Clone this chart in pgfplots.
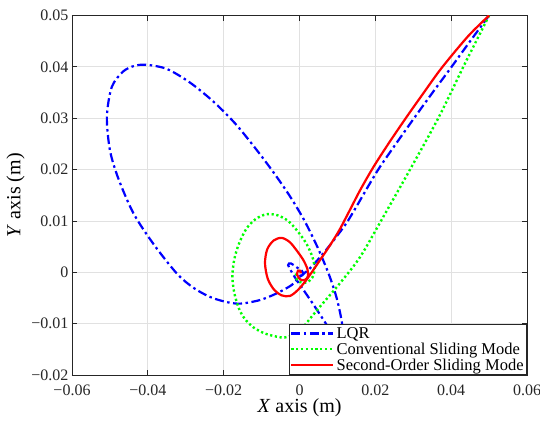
\documentclass[border=0pt]{standalone}
\usepackage{fontspec}
\setmainfont{Liberation Serif}
\usepackage{pgfplots}
\pgfplotsset{compat=1.18}
\usetikzlibrary{calc}

\definecolor{axgray}{RGB}{38,38,38}
\definecolor{gridgray}{RGB}{225,225,225}
\definecolor{lqrblue}{RGB}{0,0,255}
\definecolor{smcgreen}{RGB}{0,255,0}
\definecolor{sosmred}{RGB}{255,0,0}

\begin{document}
\begin{tikzpicture}
\begin{axis}[
  width=455pt, height=359.5pt, scale only axis,
  xmin=-0.06, xmax=0.06, ymin=-0.02, ymax=0.05,
  xtick={-0.06,-0.04,-0.02,0,0.02,0.04,0.06},
  xticklabels={−0.06,−0.04,−0.02,0,0.02,0.04,0.06},
  ytick={-0.02,-0.01,0,0.01,0.02,0.03,0.04,0.05},
  yticklabels={−0.02,−0.01,0,0.01,0.02,0.03,0.04,0.05},
  scaled ticks=false,
  tick align=inside,
  major tick length=5pt,
  grid=major,
  grid style={gridgray, line width=0.8pt},
  axis line style={axgray, line width=0.8pt},
  tick style={axgray, line width=0.8pt},
  ticklabel style={font=\fontsize{16}{18}\selectfont, text=axgray},
  xticklabel style={yshift=-6pt},
  xlabel={\textit{X} axis (m)},
  ylabel={\textit{Y} axis (m)},
  label style={font=\fontsize{20}{24}\selectfont, text=black},
  xlabel style={at={(axis description cs:0.5,0)}, anchor=center, yshift=-33pt},
  legend style={at={(1,0)}, anchor=south east, draw=axgray, line width=0.8pt,
    fill=white, font=\fontsize{16.5}{17}\selectfont, inner sep=1pt,
    row sep=-1pt, cells={anchor=west}},
  legend image code/.code={\draw[#1] (0pt,0pt) -- (42pt,0pt);},
]
\coordinate (sw) at (rel axis cs:0,0);
\coordinate (ne) at (rel axis cs:1,1);

% LQR
\addplot[lqrblue, line width=2.2pt, line cap=butt,
  dash pattern=on 9pt off 3.5pt on 2.5pt off 3.5pt, smooth, tension=0.5]
coordinates {
(0.0500,0.0500) (0.0452,0.0452) (0.0401,0.0400) (0.0353,0.0352)
(0.0305,0.0303) (0.0258,0.0254) (0.0212,0.0205) (0.0180,0.0166)
(0.0151,0.0129) (0.0124,0.0096) (0.0094,0.0066) (0.0063,0.0037)
(0.0028,0.0008) (0.0001,-0.0009) (-0.0021,-0.0025) (-0.0060,-0.0041)
(-0.0104,-0.0054) (-0.0155,-0.0061) (-0.0192,-0.0058) (-0.0236,-0.0048)
(-0.0280,-0.0030) (-0.0324,-0.0002) (-0.0386,0.0056) (-0.0438,0.0115)
(-0.0478,0.0183) (-0.0500,0.0238) (-0.0508,0.0303) (-0.0495,0.0361)
(-0.0465,0.0391) (-0.0435,0.0402) (-0.0403,0.0404) (-0.0350,0.0396)
(-0.0290,0.0370) (-0.0228,0.0333) (-0.0170,0.0290) (-0.0118,0.0243)
(-0.0070,0.0196) (-0.0027,0.0150) (0.0012,0.0102) (0.0048,0.0048)
(0.0078,-0.0005) (0.0098,-0.0050) (0.0110,-0.0090) (0.0116,-0.0122)
(0.0110,-0.0140) (0.0096,-0.0132) (0.0080,-0.0112) (0.0060,-0.0089)
(0.0036,-0.0062) (0.0012,-0.0036) (-0.0012,-0.0010) (-0.0030,0.0014)
(-0.0022,0.0017) (-0.0008,0.0010) (0.0006,0.0003) (0.0010,-0.0004)
(0.0003,-0.0007) (-0.0003,-0.0002) (0.0000,0.0000)
};
\addlegendentry{LQR}

% Conventional sliding mode
\addplot[smcgreen, line width=2.4pt, line cap=butt,
  dash pattern=on 2.2pt off 2.6pt, smooth, tension=0.5]
coordinates {
(0.0500,0.0500) (0.0468,0.0453) (0.0432,0.0400) (0.0368,0.0303)
(0.0296,0.0206) (0.0221,0.0108) (0.0160,0.0030) (0.0107,-0.0021)
(0.0054,-0.0067) (0.0028,-0.0090) (0.0008,-0.0108) (-0.0015,-0.0121)
(-0.0040,-0.0127) (-0.0062,-0.0125) (-0.0092,-0.0119) (-0.0122,-0.0107)
(-0.0145,-0.0090) (-0.0160,-0.0070) (-0.0172,-0.0040) (-0.0177,-0.0008)
(-0.0172,0.0025) (-0.0160,0.0055) (-0.0140,0.0085) (-0.0115,0.0104)
(-0.0087,0.0113) (-0.0058,0.0111) (-0.0030,0.0100) (-0.0005,0.0080)
(0.0018,0.0056) (0.0034,0.0030) (0.0040,0.0008) (0.0034,-0.0010)
(0.0018,-0.0020) (-0.0002,-0.0018) (-0.0010,-0.0008) (-0.0006,0.0002)
(0.0001,0.0002) (0.0000,0.0000)
};
\addlegendentry{Conventional Sliding Mode}

% Second-order sliding mode
\addplot[sosmred, line width=2.2pt, smooth, tension=0.5]
coordinates {
(0.0500,0.0500) (0.0445,0.0460) (0.0375,0.0398) (0.0328,0.0350)
(0.0283,0.0303) (0.0236,0.0252) (0.0195,0.0205) (0.0160,0.0160)
(0.0132,0.0120) (0.0105,0.0082) (0.0080,0.0052)
(0.0058,0.0028) (0.0036,0.0004) (0.0015,-0.0018) (-0.0005,-0.0035)
(-0.0025,-0.0046) (-0.0047,-0.0045) (-0.0068,-0.0033) (-0.0084,-0.0012)
(-0.0091,0.0018) (-0.0085,0.0045) (-0.0068,0.0062) (-0.0047,0.0067)
(-0.0026,0.0059) (-0.0008,0.0043) (0.0010,0.0024) (0.0021,0.0006)
(0.0022,-0.0008) (0.0014,-0.0015) (0.0002,-0.0014) (-0.0006,-0.0005)
(-0.0004,0.0003) (0.0002,0.0003) (0.0003,0.0000) (0.0000,0.0000)
};
\addlegendentry{Second-Order Sliding Mode}
\end{axis}
\pgfresetboundingbox
\useasboundingbox ($(sw)+(-72pt,-45pt)$) rectangle ($(ne)+(13pt,15.5pt)$);
\end{tikzpicture}
\end{document}
